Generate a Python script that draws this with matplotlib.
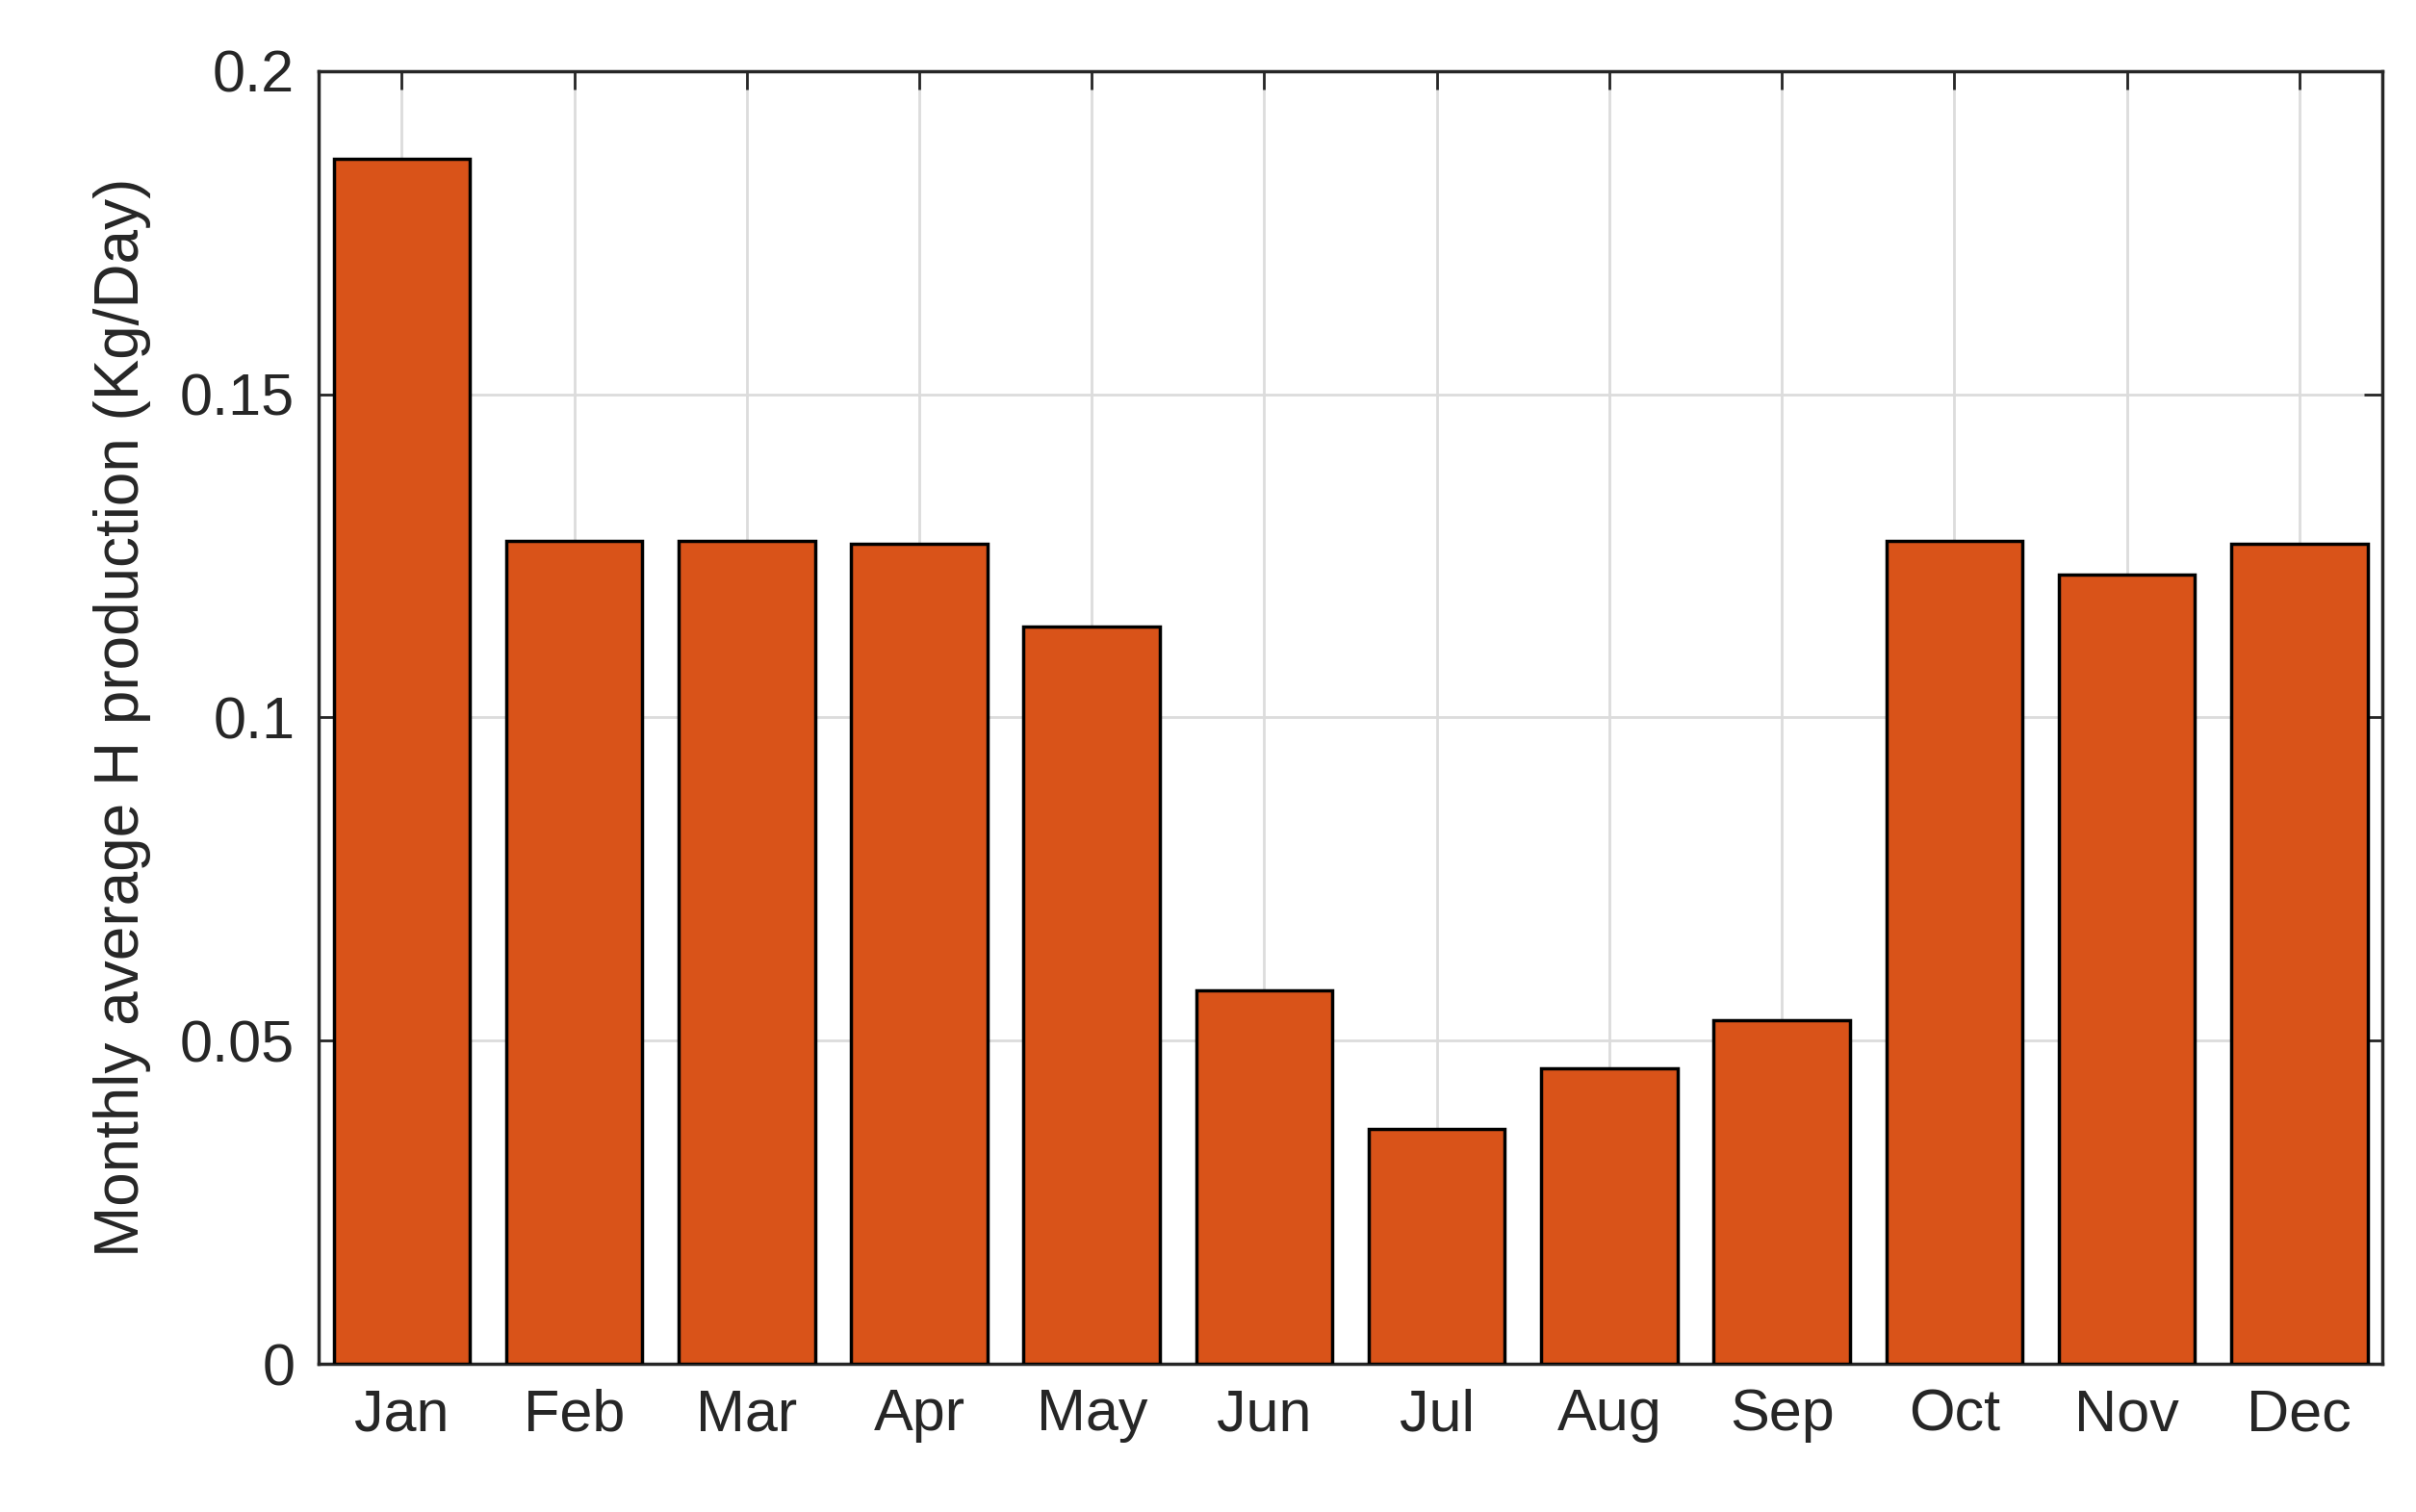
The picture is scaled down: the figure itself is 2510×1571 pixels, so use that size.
import matplotlib
matplotlib.use("Agg")
import matplotlib.pyplot as plt

months = ["Jan","Feb","Mar","Apr","May","Jun","Jul","Aug","Sep","Oct","Nov","Dec"]
values = [0.1865,0.1273,0.1273,0.1268,0.1140,0.0578,0.0363,0.0457,0.0532,0.1273,0.1221,0.1268]
yticks = [0, 0.05, 0.1, 0.15, 0.2]
yticklabels = ["0", "0.05", "0.1", "0.15", "0.2"]

plt.rcParams['font.family'] = ['Liberation Sans', 'DejaVu Sans']
fig = plt.figure(figsize=(25.10, 15.71), dpi=100)
ax = fig.add_axes([0.132, 0.098, 0.854, 0.855])
x = list(range(1, len(months) + 1))
ax.bar(x, values, width=0.79, color="#D95319", edgecolor="black", linewidth=2.5, zorder=3)
ax.set_xlim(0.52, 12.48)
ax.set_ylim(0, 0.2)
ax.set_xticks(x)
ax.set_xticklabels(months)
ax.set_yticks(yticks)
ax.set_yticklabels(yticklabels)
ax.grid(True, color="#dcdcdc", linewidth=2, zorder=0)
ax.tick_params(direction="in", length=14, width=2, labelsize=44, top=True, right=True, pad=18, colors="#262626", labelcolor="#262626")
for s in ax.spines.values():
    s.set_linewidth(2.5)
    s.set_color("#262626")
ax.set_ylabel("Monthly average H production (Kg/Day)", fontsize=46, color="#262626", labelpad=22)
fig.savefig("out.png", dpi=100)
